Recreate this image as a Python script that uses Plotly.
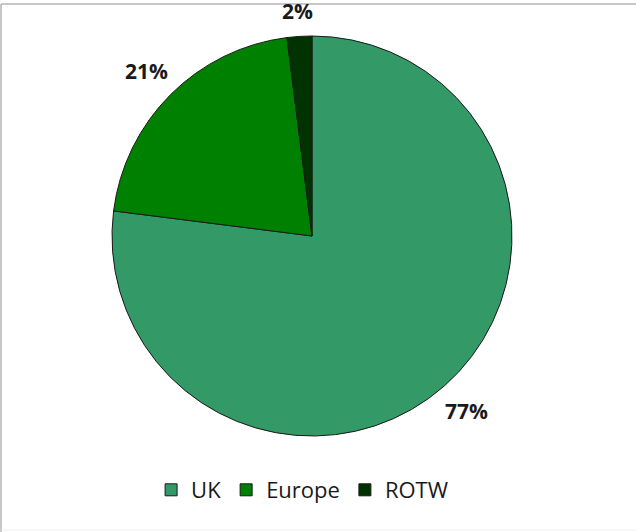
import math
import plotly.graph_objects as go

# Share of total by region
regions = ["UK", "Europe", "ROTW"]
shares = [77, 21, 2]
slice_colors = ["#339966", "#008000", "#003300"]

W, H = 636, 532
cx, cy, r = 312, 236, 200  # pie centre and radius in pixels
label_size = 21
label_gap = 15

fig = go.Figure(
    go.Pie(
        labels=regions,
        values=shares,
        sort=False,
        direction="clockwise",
        rotation=0,
        marker=dict(colors=slice_colors, line=dict(color="#1a1a1a", width=1)),
        textinfo="none",
        domain=dict(x=[(cx - r) / W, (cx + r) / W], y=[1 - (cy + r) / H, 1 - (cy - r) / H]),
        hoverinfo="label+percent",
    )
)

# Percentage labels placed just beyond the outer edge of each slice
total = sum(shares)
start = 0.0
annotations = []
for value in shares:
    frac = value / total
    mid = (start + frac / 2) * 2 * math.pi
    start += frac
    sx, sy = math.sin(mid), -math.cos(mid)
    text = f"{round(frac * 100)}%"
    half_w = 0.3 * label_size * len(text) * 0.85
    half_h = label_size * 0.48
    d = r + label_gap + abs(sx) * half_w + abs(sy) * half_h
    annotations.append(
        dict(
            x=(cx + sx * d) / W,
            y=1 - (cy + sy * d) / H,
            xref="paper",
            yref="paper",
            text=f"<b>{text}</b>",
            showarrow=False,
            xanchor="center",
            yanchor="middle",
            font=dict(family="Open Sans", size=label_size, color="#1a1a1a"),
        )
    )

fig.update_layout(
    width=W,
    height=H,
    margin=dict(l=0, r=0, t=0, b=0),
    paper_bgcolor="white",
    showlegend=True,
    annotations=annotations,
    legend=dict(
        orientation="h",
        x=0.475,
        xanchor="center",
        y=1 - 490 / H,
        yanchor="middle",
        font=dict(family="Open Sans", size=22, color="#1a1a1a"),
        itemwidth=30,
        traceorder="normal",
    ),
    shapes=[
        dict(type="line", xref="paper", yref="paper", x0=1 / W, x1=1, y0=1 - 4 / H, y1=1 - 4 / H,
             line=dict(color="#b4b4b4", width=1.5)),
        dict(type="line", xref="paper", yref="paper", x0=1 / W, x1=1 / W, y0=1 - 4 / H, y1=0,
             line=dict(color="#b4b4b4", width=1.5)),
        dict(type="line", xref="paper", yref="paper", x0=1 / W, x1=1, y0=2 / H, y1=2 / H,
             line=dict(color="#eeeeee", width=1)),
    ],
)

fig.write_html("out.html")
